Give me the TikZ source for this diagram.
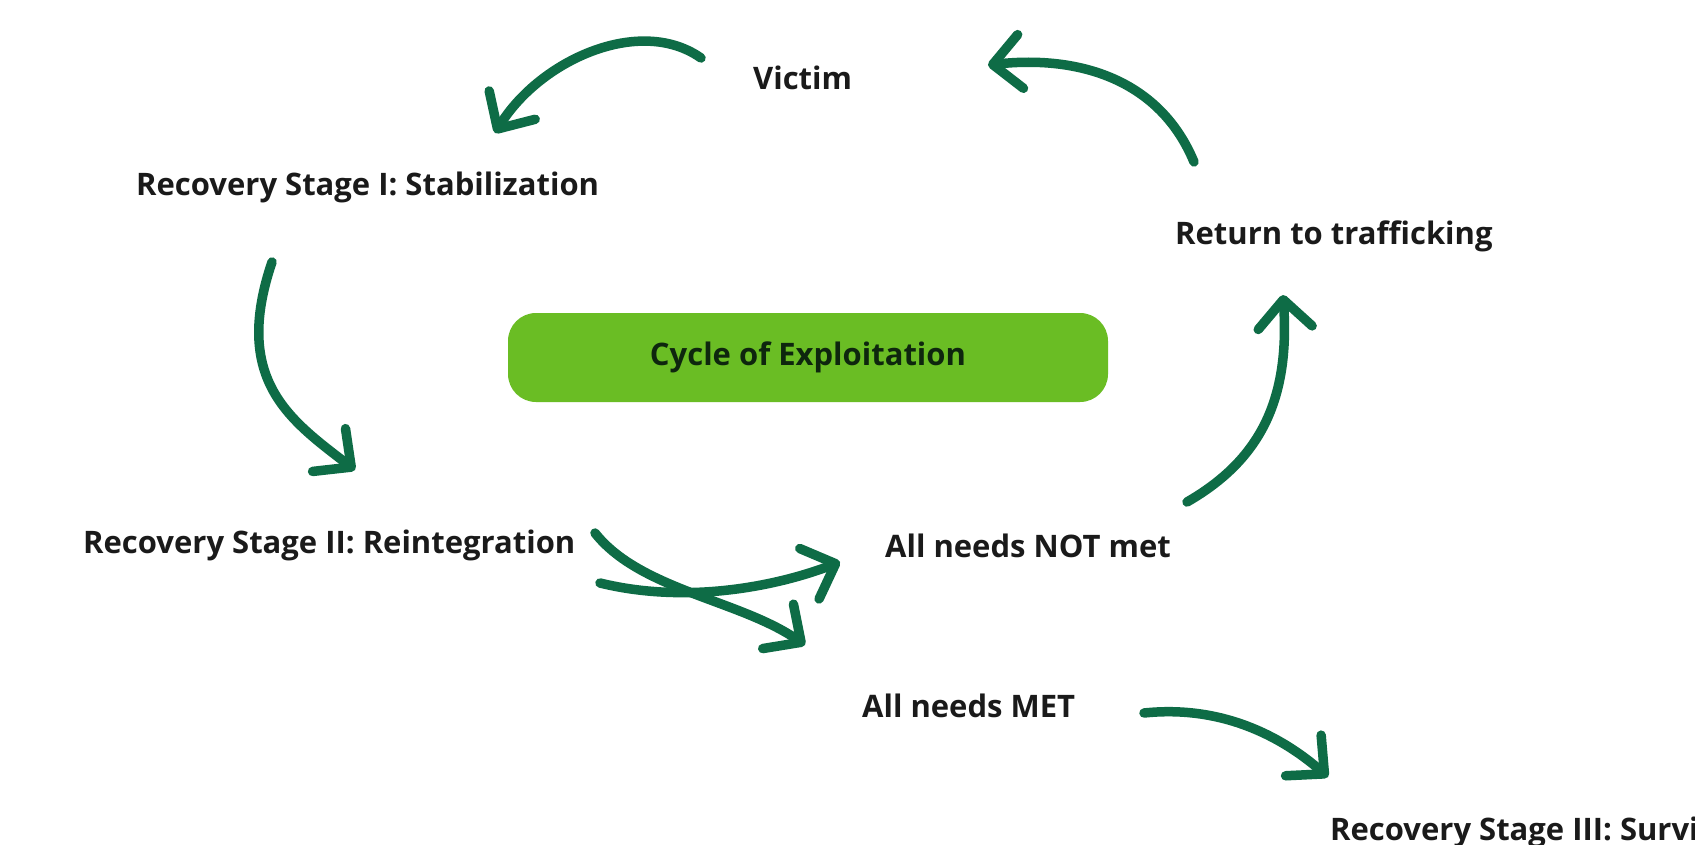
\documentclass[tikz,border=0pt]{standalone}
\usepackage{fontspec}
\setmainfont{Open Sans}
\usetikzlibrary{arrows.meta}
\definecolor{arrowgreen}{RGB}{14,108,70}
\definecolor{boxgreen}{RGB}{106,189,36}
\definecolor{boxtext}{RGB}{14,38,14}
\definecolor{labeltext}{RGB}{26,26,26}
\tikzset{
  lbl/.style={font=\fontsize{31}{36}\selectfont\bfseries, text=labeltext, inner sep=0pt, anchor=base west},
  cyclebox/.style={fill=boxgreen, rounded corners=28pt, minimum width=600pt, minimum height=89pt, inner sep=0pt,
    font=\fontsize{31}{36}\selectfont\bfseries, text=boxtext},
  brush/.style={draw=arrowgreen, line width=9.5pt, line cap=round,
    -{Straight Barb[length=28pt, width=54pt, round]}}
}
\begin{document}
\begin{tikzpicture}[x=1pt, y=-1pt]
\useasboundingbox (0,0) rectangle (1695,844);
\fill[white] (0,0) rectangle (1695,844);
\clip (0,0) rectangle (1695,844);
% labels
\node[lbl] (victim) at (753,89) {Victim};
\node[lbl] (stab) at (136,195) {Recovery Stage I: Stabilization};
\node[lbl] (ret) at (1175,244) {Return to trafficking};
\node[lbl] (reint) at (83,553) {Recovery Stage II: Reintegration};
\node[lbl] (notmet) at (885,557) {All needs NOT met};
\node[lbl] (met) at (862,717) {All needs MET};
\node[lbl] (surv) at (1330,840) {Recovery Stage III: Survi};
\node[cyclebox] (cycle) at (808,357.5) {Cycle of Exploitation};
% arrow end points
\coordinate (a1s) at (701,58);   \coordinate (a1e) at (495,133);
\coordinate (a2s) at (1194,162); \coordinate (a2e) at (988,65);
\coordinate (a3s) at (272,262);  \coordinate (a3e) at (355,470);
\coordinate (a4s) at (1187,502); \coordinate (a4e) at (1283,295);
\coordinate (a5s) at (600,583);  \coordinate (a5e) at (840,562);
\coordinate (a6s) at (595,533);  \coordinate (a6e) at (805,645);
\coordinate (a7s) at (1144,713); \coordinate (a7e) at (1328,777);
% arrows
\draw[brush] (a1s) .. controls (640,15) and (540,60) .. (a1e);
\draw[brush] (a2s) .. controls (1160,80) and (1080,55) .. (a2e);
\draw[brush] (a3s) .. controls (232,380) and (290,420) .. (a3e);
\draw[brush] (a4s) .. controls (1260,460) and (1290,400) .. (a4e);
\draw[brush] (a5s) .. controls (690,605) and (780,585) .. (a5e);
\draw[brush] (a6s) .. controls (640,590) and (740,600) .. (a6e);
\draw[brush] (a7s) .. controls (1220,705) and (1280,735) .. (a7e);
\end{tikzpicture}
\end{document}
